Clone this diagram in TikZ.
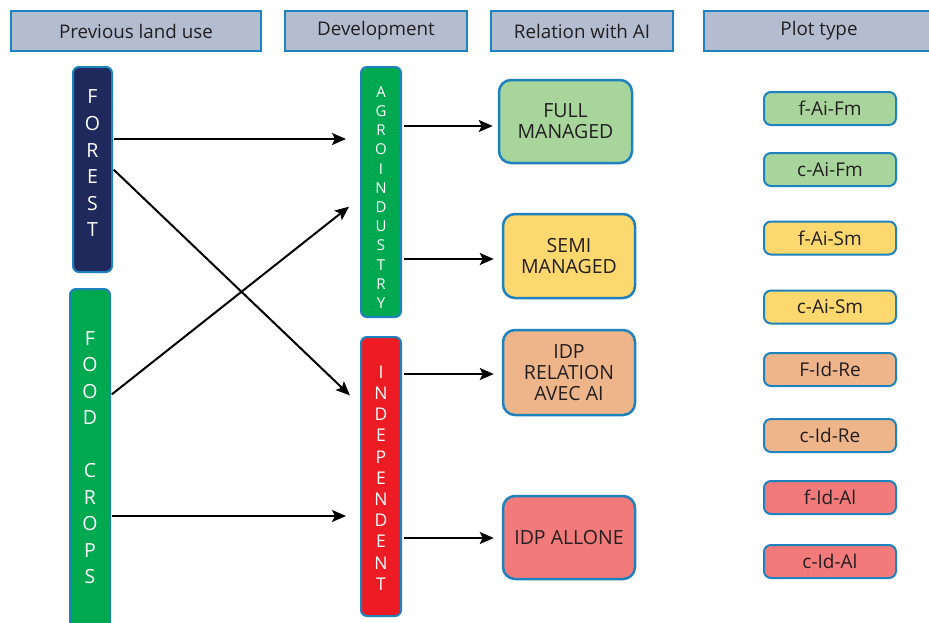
\documentclass[tikz,border=0pt]{standalone}
\usepackage{fontspec}
\setmainfont{Open Sans}
\usetikzlibrary{arrows.meta,calc}
\definecolor{bordercol}{RGB}{30,130,190}
\definecolor{headfill}{RGB}{180,188,208}
\definecolor{navybar}{RGB}{31,41,92}
\definecolor{greenbar}{RGB}{0,168,80}
\definecolor{redbar}{RGB}{237,28,36}
\definecolor{lgreen}{RGB}{168,213,155}
\definecolor{lyellow}{RGB}{253,216,110}
\definecolor{lpeach}{RGB}{239,181,138}
\definecolor{lpink}{RGB}{242,122,122}
\definecolor{txt}{RGB}{35,31,32}
\begin{document}
\begin{tikzpicture}[x=1pt,y=-1pt,
  hdr/.style={draw=bordercol, line width=2pt, fill=headfill, rectangle, minimum height=40pt, inner sep=0pt, text=txt, font=\fontsize{18.8}{22}\selectfont},
  bar/.style={draw=bordercol, line width=2pt, rounded corners=6pt, rectangle, inner sep=0pt},
  bartext/.style={text=white, align=center, inner sep=0pt},
  relbox/.style={draw=bordercol, line width=2.5pt, rounded corners=12pt, rectangle, inner sep=0pt, align=center, text=txt, font=\fontsize{19.5}{21}\selectfont},
  plotbox/.style={draw=bordercol, line width=2pt, rounded corners=7pt, rectangle, inner sep=0pt, minimum width=132pt, minimum height=33pt, text=txt, font=\fontsize{19}{20}\selectfont},
  arr/.style={line width=2pt, draw=black, -{Stealth[length=14pt,width=12pt,inset=3pt]}}
]
\useasboundingbox (0,0) rectangle (929,622);
\fill[white] (0,0) rectangle (929,622);

% headers
\node[hdr, minimum width=250pt] (h1) at (136,31) {Previous land use};
\node[hdr, minimum width=182pt] (h2) at (376,31) {Development};
\node[hdr, minimum width=182pt] (h3) at (582,31) {Relation with AI};
\node[hdr, minimum width=230pt] (h4) at (819,31) {Plot type};

% left bars
\node[bar, fill=navybar, minimum width=39pt, minimum height=205pt] (forest) at (92.5,169.5) {};
\node[bartext, font=\fontsize{19.5}{26.6}\selectfont] (forestT) at (92.5,163.5) {F\\O\\R\\E\\S\\T};
\node[bar, fill=greenbar, minimum width=40pt, minimum height=360pt] (food) at (90,469) {};
\node[bartext, font=\fontsize{19.5}{26.5}\selectfont] (foodT) at (90,457.5) {F\\O\\O\\D\\~\\C\\R\\O\\P\\S};

% middle bars
\node[bar, fill=greenbar, minimum width=40pt, minimum height=250pt] (agro) at (381,192) {};
\node[bartext, font=\fontsize{15}{19.2}\selectfont] (agroT) at (381,197.5) {A\\G\\R\\O\\I\\N\\D\\U\\S\\T\\R\\Y};
\node[bar, fill=redbar, minimum width=40pt, minimum height=279pt] (indep) at (381,476.5) {};
\node[bartext, font=\fontsize{17.5}{21.2}\selectfont] (indepT) at (381,478) {I\\N\\D\\E\\P\\E\\N\\D\\E\\N\\T};

% relation boxes
\node[relbox, fill=lgreen, minimum width=133pt, minimum height=83pt] (full) at (565.5,121.5) {FULL\\MANAGED};
\node[relbox, fill=lyellow, minimum width=132pt, minimum height=84pt] (semi) at (569,256) {SEMI\\MANAGED};
\node[relbox, fill=lpeach, minimum width=132pt, minimum height=85pt] (idprel) at (569,372.5) {IDP\\RELATION\\AVEC AI};
\node[relbox, fill=lpink, minimum width=132pt, minimum height=83pt] (idpall) at (569,537.5) {IDP ALLONE};

% plot type boxes
\node[plotbox, fill=lgreen] (p1) at (830,108.5) {f-Ai-Fm};
\node[plotbox, fill=lgreen] (p2) at (830,169.5) {c-Ai-Fm};
\node[plotbox, fill=lyellow] (p3) at (830,238) {f-Ai-Sm};
\node[plotbox, fill=lyellow] (p4) at (830,307) {c-Ai-Sm};
\node[plotbox, fill=lpeach] (p5) at (830,369.5) {F-Id-Re};
\node[plotbox, fill=lpeach] (p6) at (830,435.5) {c-Id-Re};
\node[plotbox, fill=lpink] (p7) at (830,497.5) {f-Id-Al};
\node[plotbox, fill=lpink] (p8) at (830,561.5) {c-Id-Al};

% connectors left -> middle
\draw[arr, shorten <=1pt, shorten >=14pt] (forest.east |- 0,139) -- (agro.west |- 0,139);
\draw[arr, shorten <=1pt, shorten >=14pt] (forest.east |- 0,169) -- (indep.west |- 0,405);
\draw[arr, shorten <=1pt, shorten >=14pt] (food.east |- 0,395) -- (agro.west |- 0,198);
\draw[arr, shorten <=1pt, shorten >=14pt] (food.east |- 0,516) -- (indep.west |- 0,516);

% connectors middle -> right
\draw[arr, shorten <=2pt, shorten >=5pt] (agro.east |- 0,126) -- (full.west |- 0,126);
\draw[arr, shorten <=2pt, shorten >=8pt] (agro.east |- 0,259) -- (semi.west |- 0,259);
\draw[arr, shorten <=2pt, shorten >=8pt] (indep.east |- 0,374) -- (idprel.west |- 0,374);
\draw[arr, shorten <=2pt, shorten >=8pt] (indep.east |- 0,538) -- (idpall.west |- 0,538);
\end{tikzpicture}
\end{document}
